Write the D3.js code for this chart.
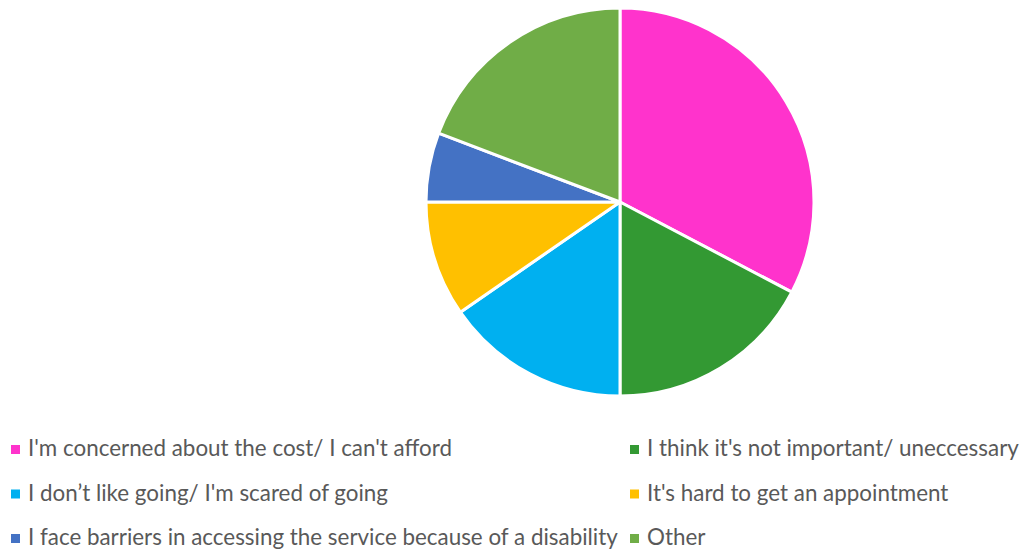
<!DOCTYPE html>
<html lang="en">
<head>
<meta charset="UTF-8">
<title>Pie</title>
<style>
  body { margin: 0; background: #fff; }
  text { font-family: Lato, "Open Sans", sans-serif; fill: #595959; }
</style>
</head>
<body>
<svg width="1021" height="551"></svg>
<script src="https://cdn.jsdelivr.net/npm/d3@7"></script>
<script>
var categories = [
  "I'm concerned about the cost/ I can't afford",
  "I think it's not important/ uneccessary",
  "I don\u2019t like going/ I'm scared of going",
  "It's hard to get an appointment",
  "I face barriers in accessing the service because of a disability",
  "Other"
];
var values = [17, 9, 8, 5, 3, 10];
var colors = ["#ff33cc", "#339933", "#00b0f0", "#ffc000", "#4472c4", "#70ad47"];

var svg = d3.select("svg");
var cx = 620, cy = 202, r = 194;

var pie = d3.pie().sort(null).value(function (d) { return d; });
var arc = d3.arc().innerRadius(0).outerRadius(r);

var g = svg.append("g").attr("transform", "translate(" + cx + "," + cy + ")");
g.selectAll("path")
  .data(pie(values))
  .enter().append("path")
  .attr("d", arc)
  .attr("fill", function (d, i) { return colors[i]; })
  .attr("stroke", "#fff")
  .attr("stroke-width", 3)
  .attr("stroke-linejoin", "round");

// legend: two columns, three rows
var colX = [11, 630], rowY = [456, 500.5, 545];
var leg = svg.append("g");
categories.forEach(function (c, i) {
  var x = colX[i % 2], y = rowY[Math.floor(i / 2)];
  leg.append("rect")
    .attr("x", x).attr("y", y - 11)
    .attr("width", 9).attr("height", 9)
    .attr("fill", colors[i]);
  leg.append("text")
    .attr("x", x + 17).attr("y", y)
    .attr("font-size", 22.4)
    .text(c);
});
</script>
</body>
</html>
